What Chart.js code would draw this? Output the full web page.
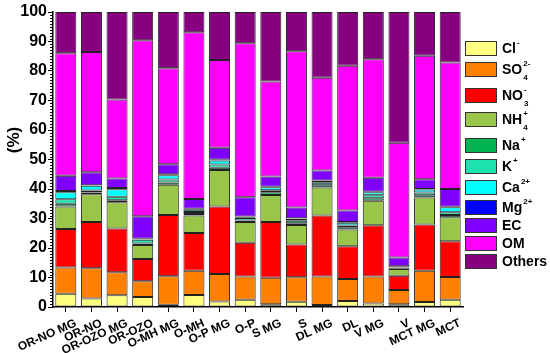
<!DOCTYPE html>
<html>
<head>
<meta charset="utf-8">
<script src="https://cdn.jsdelivr.net/npm/chart.js@4.4.0/dist/chart.umd.min.js"></script>
<style>
  html, body { margin: 0; padding: 0; background: #fff; }
</style>
</head>
<body>
<canvas id="chart" width="550" height="353"></canvas>
<script>
// sites along the x axis
const sites = ['OR-NO MG', 'OR-NO', 'OR-OZO MG', 'OR-OZO', 'O-MH MG', 'O-MH', 'O-P MG', 'O-P',
  'S MG', 'S', 'DL MG', 'DL', 'V MG', 'V', 'MCT MG', 'MCT'];

// mass fractions (%) per species, bottom to top of each stack
const cl     = [4.5, 2.9, 4.0, 3.4, 0.8, 4.1, 1.9, 2.5, 0.9, 1.8, 0.7, 2.0, 1.2, 0.9, 1.7, 2.5];
const so4    = [8.9, 10.2, 7.8, 5.3, 9.6, 8.2, 9.3, 7.8, 9.0, 8.3, 9.6, 7.5, 9.1, 4.9, 10.6, 7.7];
const no3    = [13.0, 15.7, 14.8, 7.6, 20.8, 12.8, 22.9, 11.5, 18.9, 11.1, 20.7, 11.1, 17.4, 4.8, 15.7, 12.1];
const nh4    = [7.7, 9.4, 8.9, 4.7, 10.2, 5.9, 12.3, 7.0, 9.2, 6.6, 9.5, 5.7, 8.3, 2.3, 9.1, 8.1];
const na     = [0.9, 0.6, 0.7, 0.5, 0.8, 0.5, 0.8, 0.5, 0.9, 0.6, 0.8, 0.7, 0.9, 0.2, 0.8, 0.8];
const k      = [1.5, 0.7, 1.2, 1.3, 1.0, 0.7, 1.1, 0.9, 0.7, 0.8, 0.8, 0.6, 1.0, 0.2, 0.9, 0.9];
const ca     = [2.4, 1.6, 2.5, 0.1, 1.5, 0.8, 1.4, 0.2, 1.0, 0.7, 0.6, 1.0, 1.0, 0.1, 1.0, 1.7];
const mg     = [0.4, 0.2, 0.4, 0.2, 0.3, 0.3, 0.2, 0.3, 0.2, 0.2, 0.2, 0.2, 0.2, 0.4, 0.2, 0.2];
const ec     = [5.2, 4.4, 3.3, 7.7, 3.4, 3.3, 4.1, 6.5, 3.4, 3.6, 3.4, 3.9, 4.7, 3.0, 3.3, 6.0];
const om     = [41.5, 40.7, 26.7, 59.6, 32.5, 56.5, 29.7, 52.2, 32.2, 53.0, 31.4, 49.1, 40.2, 38.9, 41.9, 42.9];
const others = [14.0, 13.6, 29.7, 9.6, 19.1, 6.9, 16.3, 10.6, 23.6, 13.3, 22.3, 18.2, 16.0, 44.3, 14.8, 17.1];

// legend text: base, subscript, superscript
const speciesBase = ['Cl', 'SO', 'NO', 'NH', 'Na', 'K', 'Ca', 'Mg', 'EC', 'OM', 'Others'];
const speciesSub  = ['', '4', '3', '4', '', '', '', '', '', '', ''];
const speciesSup  = ['-', '2-', '-', '+', '+', '+', '2+', '2+', '', '', ''];

const yTicks = [0, 10, 20, 30, 40, 50, 60, 70, 80, 90, 100];

const colors = ['#ffff80', '#ff8000', '#ff0000', '#99c648', '#00b454', '#1ee3b0',
  '#00ffff', '#0000ff', '#8000ff', '#ff00ff', '#860080'];
const FONT = "'Liberation Sans', Arial, sans-serif";

const series = [cl, so4, no3, nh4, na, k, ca, mg, ec, om, others];
const datasets = series.map((d, i) => ({
  label: speciesBase[i] + speciesSub[i] + speciesSup[i],
  data: d,
  backgroundColor: colors[i],
  borderColor: '#222',
  borderWidth: 1,
  borderSkipped: false,
  barPercentage: 0.82,
  categoryPercentage: 1.0
}));

// minor ticks, y title and the sub/superscript legend
const extras = {
  id: 'extras',
  afterDraw(chart) {
    const c = chart.ctx;
    const y = chart.scales.y;
    const left = chart.chartArea.left;
    c.save();
    c.strokeStyle = '#000';
    c.lineWidth = 1;
    for (let v = 1; v < 100; v++) {
      if (v % 10 === 0) continue;
      const py = Math.round(y.getPixelForValue(v)) + 0.5;
      c.beginPath();
      c.moveTo(left - 3, py);
      c.lineTo(left, py);
      c.stroke();
    }

    c.fillStyle = '#000';
    c.font = 'bold 17px ' + FONT;
    c.translate(14, 140);
    c.rotate(-Math.PI / 2);
    c.textAlign = 'center';
    c.textBaseline = 'middle';
    c.fillText('(%)', 0, 0);
    c.restore();

    const rowTop = [41, 62, 88, 112, 138, 159, 180, 200, 218, 236, 254];
    c.save();
    c.textBaseline = 'middle';
    speciesBase.forEach((name, i) => {
      const top = rowTop[i];
      c.fillStyle = colors[i];
      c.fillRect(465, top, 32, 15);
      c.strokeStyle = '#333';
      c.lineWidth = 1;
      c.strokeRect(465.5, top + 0.5, 31, 14);
      c.fillStyle = '#000';
      c.font = 'bold 14px ' + FONT;
      const ty = top + 8;
      c.fillText(name, 502, ty);
      const w = c.measureText(name).width;
      c.font = 'bold 8px ' + FONT;
      if (speciesSup[i]) c.fillText(speciesSup[i], 502 + w + 1, ty - 6);
      if (speciesSub[i]) c.fillText(speciesSub[i], 502 + w + 1, ty + 8);
    });
    c.restore();
  }
};

new Chart(document.getElementById('chart'), {
  type: 'bar',
  data: { labels: sites, datasets: datasets },
  options: {
    responsive: false,
    animation: false,
    devicePixelRatio: 1,
    layout: { padding: { top: 12, right: 87, left: 0, bottom: 0 } },
    plugins: { legend: { display: false }, tooltip: { enabled: false } },
    scales: {
      x: {
        stacked: true,
        offset: true,
        grid: { drawOnChartArea: false, offset: false, tickLength: 5, tickColor: '#000', tickWidth: 1 },
        border: { color: '#000', width: 1.5 },
        ticks: {
          color: '#000', font: { family: FONT, size: 12, weight: 'bold' },
          autoSkip: false, maxRotation: 24, minRotation: 24, padding: 4, labelOffset: 10
        },
        afterFit(s) { s.height = 46; }
      },
      y: {
        stacked: true,
        min: 0,
        max: 100,
        afterBuildTicks(s) { s.ticks = yTicks.map(v => ({ value: v })); },
        grid: { drawOnChartArea: false, tickLength: 5, tickColor: '#000', tickWidth: 1 },
        border: { color: '#000', width: 1.5 },
        ticks: { color: '#000', font: { family: FONT, size: 16, weight: 'bold' }, padding: 1 },
        afterFit(s) { s.width = 53; }
      }
    }
  },
  plugins: [extras]
});
</script>
</body>
</html>
